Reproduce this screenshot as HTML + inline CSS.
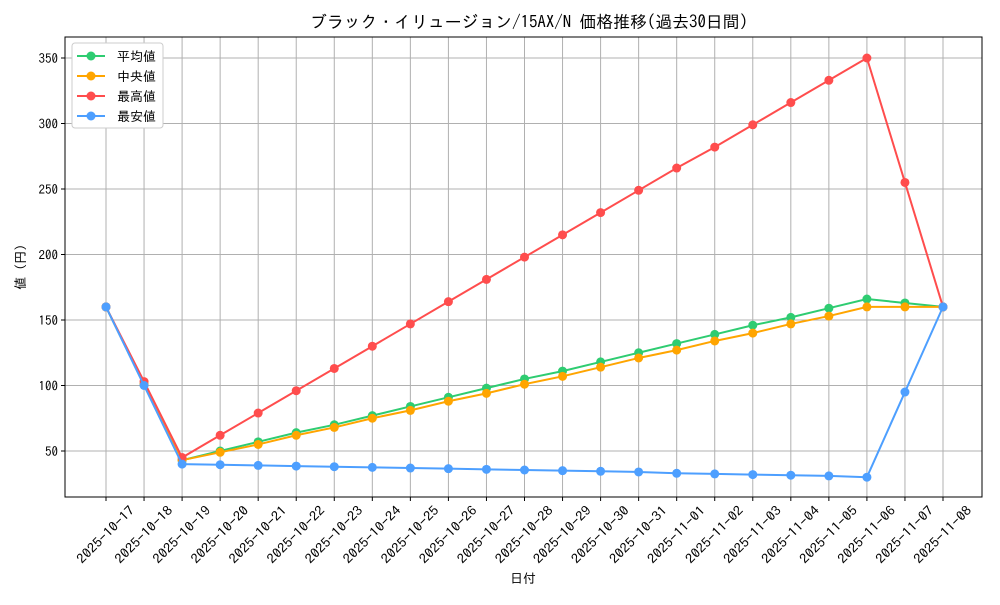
<!DOCTYPE html>
<html><head><meta charset="utf-8"><style>
body{margin:0;background:#fff}
svg{font-family:"IPAGothic","Noto Sans CJK JP",sans-serif}
</style></head><body>
<svg id="chart" width="1000" height="600"></svg>
<script>
const categories=["2025-10-17","2025-10-18","2025-10-19","2025-10-20","2025-10-21","2025-10-22","2025-10-23","2025-10-24","2025-10-25","2025-10-26","2025-10-27","2025-10-28","2025-10-29","2025-10-30","2025-10-31","2025-11-01","2025-11-02","2025-11-03","2025-11-04","2025-11-05","2025-11-06","2025-11-07","2025-11-08"];
const meanValues=[160,101,43,50,57,64,70,77,84,91,98,105,111,118,125,132,139,146,152,159,166,163,160];
const medianValues=[160,101,43,49,55,62,68,75,81,88,94,101,107,114,121,127,134,140,147,153,160,160,160];
const maxValues=[160,103,45,62,79,96,113,130,147,164,181,198,215,232,249,266,282,299,316,333,350,255,160];
const minValues=[160,100,40,39.5,39,38.5,38,37.5,37,36.5,36,35.5,35,34.5,34,33,32.5,32,31.5,31,30,95,160];
const yTicks=[50,100,150,200,250,300,350];
const seriesNames=["平均値","中央値","最高値","最安値"];
const NS="http://www.w3.org/2000/svg";
const svg=document.getElementById('chart');
const L=65,R=982,T=37,B=497;
const xs=i=>106+i*(943-106)/(categories.length-1);
const ys=v=>451-(v-50)*(451-58)/300;
function el(tag,attrs,parent){const e=document.createElementNS(NS,tag);for(const k in attrs)e.setAttribute(k,attrs[k]);(parent||svg).appendChild(e);return e;}
function txt(s,attrs){const e=el('text',attrs);e.textContent=s;return e;}
categories.forEach((c,i)=>{
 const g=el('line',{x1:xs(i),x2:xs(i),y1:T,y2:B,stroke:'#b0b0b0','stroke-width':1});
 
 
 el('line',{x1:xs(i),x2:xs(i),y1:B,y2:B+4,stroke:'#000'});
 const cx=xs(i), cy=B+38;
 const t=txt(c,{x:cx,y:cy+4,'font-size':13,'text-anchor':'middle',textLength:75,lengthAdjust:'spacingAndGlyphs',transform:`rotate(-45 ${cx} ${cy})`});
 
 
});
yTicks.forEach(v=>{
 const g=el('line',{x1:L,x2:R,y1:ys(v),y2:ys(v),stroke:'#b0b0b0','stroke-width':1});
 
 
 el('line',{x1:L-4,x2:L,y1:ys(v),y2:ys(v),stroke:'#000'});
 const t=txt(String(v),{x:L-7,y:ys(v)+5,'font-size':13,'text-anchor':'end'});
 
 
});
const frame=el('rect',{x:L,y:T,width:R-L,height:B-T,fill:'none',stroke:'#000','stroke-width':1});


const series=[[meanValues,'#2ecc71','mean'],[medianValues,'#ffa500','median'],[maxValues,'#ff4d4d','max'],[minValues,'#4d9fff','min']];
series.forEach(([vals,col,nm])=>{
 const p=el('polyline',{points:vals.map((v,i)=>xs(i)+','+ys(v)).join(' '),fill:'none',stroke:col,'stroke-width':2});
 
 
 vals.forEach((v,i)=>{
  const c=el('circle',{cx:xs(i),cy:ys(v),r:4.5,fill:col});
  
  
 });
});
const lg=el('rect',{x:72,y:43,width:91,height:85,fill:'#fff',stroke:'#ccc',rx:3});


series.forEach(([vals,col,nm],k)=>{
 const y=56+k*20;
 el('line',{x1:77,x2:105,y1:y,y2:y,stroke:col,'stroke-width':2});
 el('circle',{cx:91,cy:y,r:4.5,fill:col});
 const t=txt(seriesNames[k],{x:117,y:y+5,'font-size':13});
 
 
});
const title=txt('ブラック・イリュージョン/15AX/N 価格推移(過去30日間)',{x:529,y:28,'font-size':17,'text-anchor':'middle',textLength:438,lengthAdjust:'spacingAndGlyphs'});


const xl=txt('日付',{x:523,y:583,'font-size':13,'text-anchor':'middle'});


const yl=txt('値 (円)',{x:25,y:267,'font-size':13,'text-anchor':'middle',transform:'rotate(-90 25 267)'});


</script>
</body></html>
